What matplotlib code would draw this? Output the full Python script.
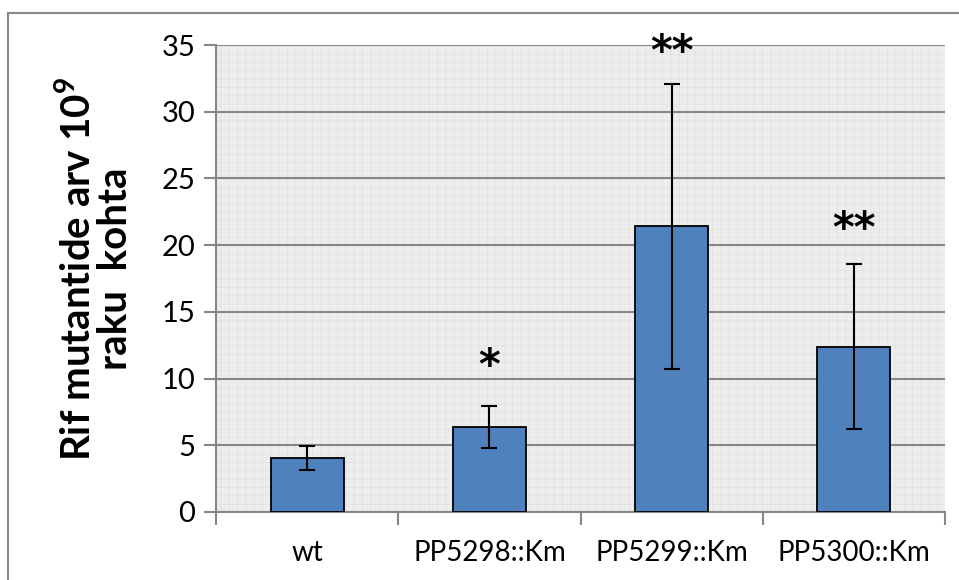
import numpy as np
import matplotlib.pyplot as plt
from matplotlib.patches import Rectangle

# data
strains = ["wt", "PP5298::Km", "PP5299::Km", "PP5300::Km"]
means = [4.05, 6.35, 21.4, 12.4]
errors = [0.9, 1.58, 10.7, 6.2]
stars = ["", "*", "**", "**"]
star_y = [0, 10.9, 34.4, 21.1]

plt.rcParams['font.family'] = ['Lato', 'DejaVu Sans']
plt.rcParams['mathtext.fontset'] = 'custom'
plt.rcParams['mathtext.rm'] = 'Lato'
plt.rcParams['mathtext.bf'] = 'Lato:bold'

fig = plt.figure(figsize=(9.59, 5.80), dpi=100)
ax = fig.add_axes([216/959, 1 - 512/580, 729/959, 467/580])

x = np.arange(len(strains))

# patterned background like the excel plot area
ax.set_facecolor('#ededed')
plt.rcParams['hatch.color'] = '#dedede'
plt.rcParams['hatch.linewidth'] = 0.4
bg = Rectangle((0, 0), 1, 1, transform=ax.transAxes, facecolor='none',
               edgecolor='#dedede', hatch='++', lw=0, zorder=0)
ax.add_patch(bg)

ax.bar(x, means, width=0.4, color='#4F81BD', edgecolor='black', lw=1.3, zorder=3)
ax.errorbar(x, means, yerr=errors, fmt='none', ecolor='black', elinewidth=1.5,
            capsize=6, capthick=1.5, zorder=4)

for i, s in enumerate(stars):
    if s:
        ax.text(x[i], star_y[i], s, ha='center', va='center', fontsize=30,
                fontweight='bold', family='DejaVu Sans', zorder=5)

ax.set_xlim(-0.5, len(strains) - 0.5)
ax.set_ylim(0, 35)
ax.set_yticks(np.arange(0, 36, 5))
ax.yaxis.grid(True, color='#878787', lw=1.5, zorder=1)
ax.set_axisbelow(True)

ax.set_xticks(x)
ax.set_xticklabels(strains)
ax.tick_params(axis='x', length=0, pad=20, labelsize=20)
ax.set_xticks(np.arange(-0.5, len(strains)), minor=True)
ax.tick_params(axis='x', which='minor', length=9, width=1.5, color='#878787')
ax.tick_params(axis='y', length=9, width=1.5, color='#878787', labelsize=21, pad=6)

for sp in ['top', 'right']:
    ax.spines[sp].set_visible(False)
for sp in ['left', 'bottom']:
    ax.spines[sp].set_color('#878787')
    ax.spines[sp].set_linewidth(1.5)

ax.set_ylabel(r"Rif mutantide arv 10$^{\mathbf{9}}$" + "\nraku  kohta", fontsize=29,
              fontweight='bold', linespacing=0.95)
ax.yaxis.set_label_coords(-0.113, 0.52)

# outer chart frame, runs off the right and bottom edges
fig.patches.append(Rectangle((8/959, -0.1), 1.2, 1 - 13/580 + 0.1,
                             transform=fig.transFigure, facecolor='none',
                             edgecolor='#878787', lw=1.5))

plt.savefig("out.png", dpi=100)
